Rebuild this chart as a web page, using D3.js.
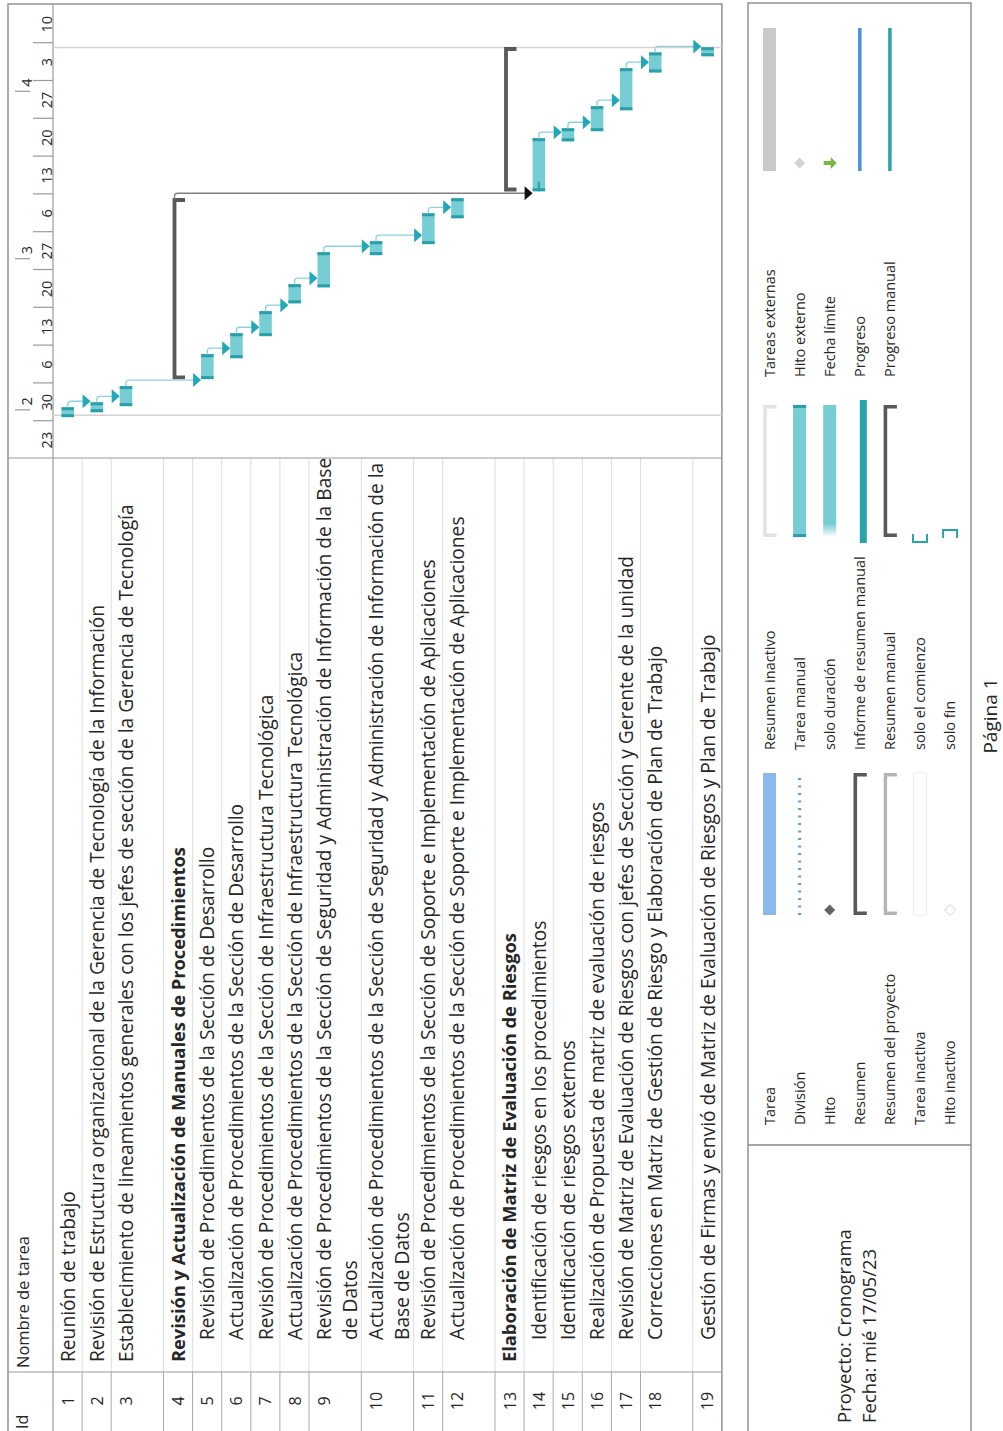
<!DOCTYPE html>
<html>
<head>
<meta charset="utf-8">
<script src="https://cdn.jsdelivr.net/npm/d3@7"></script>
<style>
  body { margin: 0; background: #fff; }
  svg { display: block; }
  text { font-family: 'Open Sans', sans-serif; fill: #262626; }
</style>
</head>
<body>
<svg id="page"></svg>
<script>
const taskIds = [1, 2, 3, 4, 5, 6, 7, 8, 9, 10, 11, 12, 13, 14, 15, 16, 17, 18, 19];
const taskNames = [
  ['Reunión de trabajo'],
  ['Revisión de Estructura organizacional de la Gerencia de Tecnología de la Información'],
  ['Establecimiento de lineamientos generales con los jefes de sección de la Gerencia de Tecnología'],
  ['Revisión y Actualización de Manuales de Procedimientos'],
  ['Revisión de Procedimientos de la Sección de Desarrollo'],
  ['Actualización de Procedimientos de la Sección de Desarrollo'],
  ['Revisión de Procedimientos de la Sección de Infraestructura Tecnológica'],
  ['Actualización de Procedimientos de la Sección de Infraestructura Tecnológica'],
  ['Revisión de Procedimientos de la Sección de Seguridad y Administración de Información de la Base', 'de Datos'],
  ['Actualización de Procedimientos de la Sección de Seguridad y Administración de Información de la', 'Base de Datos'],
  ['Revisión de Procedimientos de la Sección de Soporte e Implementación de Aplicaciones'],
  ['Actualización de Procedimientos de la Sección de Soporte e Implementación de Aplicaciones'],
  ['Elaboración de Matriz de Evaluación de Riesgos'],
  ['Identificación de riesgos en los procedimientos'],
  ['Identificación de riesgos externos'],
  ['Realización de Propuesta de matriz de evaluación de riesgos'],
  ['Revisión de Matriz de Evaluación de Riesgos con jefes de Sección y Gerente de la unidad'],
  ['Correcciones en Matriz de Gestión de Riesgo y Elaboración de Plan de Trabajo'],
  ['Gestión de Firmas y envió de Matriz de Evaluación de Riesgos y Plan de Trabajo']
];
const taskLevel = [0, 0, 0, 0, 1, 1, 1, 1, 1, 1, 1, 1, 0, 1, 1, 1, 1, 1, 1];
const rowSpan = [1, 1, 2, 1, 1, 1, 1, 1, 2, 2, 1, 2, 1, 1, 1, 1, 1, 2, 1];
// summary rows and the tasks they group
const summaries = {4: [5, 12], 13: [14, 19]};
const taskStart = [
  '2023-01-30 18:00', '2023-01-31 16:00', '2023-02-01 19:00', null,
  '2023-02-06 19:00', '2023-02-10 16:00', '2023-02-14 18:00', '2023-02-20 20:00',
  '2023-02-23 19:00', '2023-03-01 18:00', '2023-03-03 19:00', '2023-03-08 14:00', null,
  '2023-03-13 14:00', '2023-03-22 20:00', '2023-03-24 17:00', '2023-03-28 14:00',
  '2023-04-04 14:00', '2023-04-07 14:00'
];
const taskEnd = [
  '2023-02-01 14:00', '2023-02-02 12:00', '2023-02-05 12:00', null,
  '2023-02-11 10:00', '2023-02-15 07:00', '2023-02-19 09:00', '2023-02-24 09:00',
  '2023-03-02 07:00', '2023-03-04 08:00', '2023-03-09 12:00', '2023-03-12 07:00', null,
  '2023-03-23 10:00', '2023-03-25 06:00', '2023-03-29 08:00', '2023-04-05 09:00',
  '2023-04-08 07:00', '2023-04-09 06:00'
];
const taskProgress = {14: 0.18};
const links = [[1, 2], [2, 3], [3, 5], [5, 6], [6, 7], [7, 8], [8, 9], [9, 10], [10, 11], [11, 12],
  [14, 15], [15, 16], [16, 17], [17, 18], [18, 19]];
const summaryLinks = [[4, 14]];
const projectStart = '2023-01-31 03:00';
const projectFinish = '2023-04-09 05:00';
const timelineStart = '2023-01-23 00:00';
const timelineEnd = '2023-04-17 00:00';

const legendCol1 = ['Tarea', 'División', 'Hito', 'Resumen', 'Resumen del proyecto', 'Tarea inactiva', 'Hito inactivo'];
const legendCol2 = ['Resumen inactivo', 'Tarea manual', 'solo duración', 'Informe de resumen manual', 'Resumen manual', 'solo el comienzo', 'solo fin'];
const legendCol3 = ['Tareas externas', 'Hito externo', 'Fecha límite', 'Progreso', 'Progreso manual'];
const projectInfo = ['Proyecto: Cronograma', 'Fecha: mié 17/05/23'];
const pageLabel = 'Página 1';

// ---- page setup: the printout is landscape, turned a quarter to the left ----
const W = 1003, H = 1431;
const svg = d3.select('#page').attr('width', W).attr('height', H);
const g = svg.append('g').attr('transform', 'translate(0,' + H + ') rotate(-90)');

const teal = '#77cdd4', tealDark = '#2a9fa9', tealArrow = '#22a8b7', tealLink = '#8bd4da';
const frameColor = '#8a8a8a';
const taskFont = 19.2, boldFont = 18.3, idFont = 16;

const parse = d3.timeParse('%Y-%m-%d %H:%M');
const top0 = 53, single = 29.1, double = 52.3;
const rowTop = [];
let acc = top0;
rowSpan.forEach(s => { rowTop.push(acc); acc += s === 2 ? double : single; });
const tableBottom = acc;
const colId = 59, colGantt = 973, frameLeft = -5, frameRight = 1427;

const x = d3.scaleTime()
  .domain([parse(timelineStart), parse(timelineEnd)])
  .range([972, 1425.6]);

// task spans (summaries take the span of their children)
const spans = taskIds.map((id, i) => {
  if (summaries[id]) {
    const [a, b] = summaries[id];
    return [parse(taskStart[a - 1]), parse(taskEnd[b - 1])];
  }
  return [parse(taskStart[i]), parse(taskEnd[i])];
});

// ---- table grid ----
const grid = g.append('g');
rowTop.slice(1).forEach(t => {
  grid.append('line').attr('x1', frameLeft).attr('x2', colId).attr('y1', t).attr('y2', t)
    .attr('stroke', '#a9a9a9').attr('stroke-width', 1);
  grid.append('line').attr('x1', colId).attr('x2', colGantt).attr('y1', t).attr('y2', t)
    .attr('stroke', '#dedede').attr('stroke-width', 1);
});
grid.append('line').attr('x1', frameLeft).attr('x2', frameRight).attr('y1', top0).attr('y2', top0)
  .attr('stroke', '#9a9a9a').attr('stroke-width', 1.2);
[colId, colGantt].forEach(cx => {
  grid.append('line').attr('x1', cx).attr('x2', cx).attr('y1', 8).attr('y2', tableBottom)
    .attr('stroke', '#9a9a9a').attr('stroke-width', 1.2);
});
grid.append('rect').attr('x', frameLeft).attr('y', 8)
  .attr('width', frameRight - frameLeft).attr('height', tableBottom - 8)
  .attr('fill', 'none').attr('stroke', frameColor).attr('stroke-width', 1.4);

// headers
g.append('text').attr('x', 2).attr('y', 28).style('font-size', '16px').text('Id');
g.append('text').attr('x', 63).attr('y', 29).style('font-size', '16.5px').text('Nombre de tarea');

// ids and names
const rows = g.append('g').selectAll('g').data(taskIds).join('g');
rows.append('text')
  .attr('x', 30).attr('y', (d, i) => rowTop[i] + 15 + 0.35 * idFont)
  .attr('text-anchor', 'middle').style('font-size', idFont + 'px')
  .text(d => d);
rows.each(function (d, i) {
  const isSummary = !!summaries[d];
  const fs = isSummary ? boldFont : taskFont;
  taskNames[i].forEach((line, k) => {
    d3.select(this).append('text')
      .attr('x', k === 0 ? (taskLevel[i] ? 91 : 69) : 91)
      .attr('y', rowTop[i] + 15 + k * 26 + 0.35 * fs)
      .style('font-size', fs + 'px')
      .style('font-weight', isSummary ? 700 : 400)
      .text(line);
  });
});

// ---- timescale ----
const weeks = d3.timeMonday.range(x.domain()[0], x.domain()[1]);
const months = d3.timeMonth.range(x.domain()[0], x.domain()[1]);
const weekAxis = g.append('g').attr('transform', 'translate(0,' + top0 + ')')
  .call(d3.axisTop(x).tickValues(weeks.slice(1)).tickSize(20).tickFormat(''));
const monthAxis = g.append('g').attr('transform', 'translate(0,30)')
  .call(d3.axisTop(x).tickValues(months).tickSize(15).tickFormat(''));
[weekAxis, monthAxis].forEach(a => {
  a.select('.domain').remove();
  a.selectAll('.tick line').attr('stroke', '#9a9a9a').attr('stroke-width', 1.2);
});
g.append('g').selectAll('text').data(weeks).join('text')
  .attr('x', d => (x(d) + x(d3.timeDay.offset(d, 7))) / 2)
  .attr('y', 52).attr('text-anchor', 'middle').style('font-size', '14.5px')
  .text(d3.timeFormat('%-d'));
g.append('g').selectAll('text').data(months).join('text')
  .attr('x', d => x(d) + 5).attr('y', 32).style('font-size', '14.5px')
  .text(d3.timeFormat('%-m'));

// project start / finish lines
[projectStart, projectFinish].forEach(s => {
  g.append('line').attr('x1', x(parse(s))).attr('x2', x(parse(s)))
    .attr('y1', top0).attr('y2', tableBottom)
    .attr('stroke', '#d4d4d4').attr('stroke-width', 1.5);
});

// ---- bars ----
const barY = i => rowTop[i] + 8.5;
const barH = 12.5;
const bars = g.append('g');
taskIds.forEach((id, i) => {
  const [s, e] = spans[i];
  if (summaries[id]) {
    const x0 = x(s) + 1.75, x1 = x(e) - 1.75, y0 = rowTop[i] + 11;
    bars.append('path')
      .attr('d', 'M' + x0 + ',' + (y0 + 10.5) + 'V' + y0 + 'H' + x1 + 'V' + (y0 + 10.5))
      .attr('fill', 'none').attr('stroke', '#595959').attr('stroke-width', 3.8);
    return;
  }
  bars.append('rect').attr('x', x(s)).attr('y', barY(i))
    .attr('width', x(e) - x(s)).attr('height', barH).attr('fill', teal);
  [x(s), x(e) - 3].forEach(cx => {
    bars.append('rect').attr('x', cx).attr('y', barY(i)).attr('width', 3).attr('height', barH)
      .attr('fill', tealDark);
  });
  if (taskProgress[id]) {
    bars.append('line')
      .attr('x1', x(s)).attr('x2', x(s) + taskProgress[id] * (x(e) - x(s)))
      .attr('y1', barY(i) + barH / 2).attr('y2', barY(i) + barH / 2)
      .attr('stroke', tealDark).attr('stroke-width', 2);
  }
});

// ---- links ----
function linkPath(sx, sy, ty) {
  const vx = sx + 6;
  return 'M' + sx + ',' + sy + 'H' + (vx - 3) + 'Q' + vx + ',' + sy + ' ' + vx + ',' + (sy + 3) + 'V' + (ty - 7);
}
function arrowPath(sx, ty) {
  const vx = sx + 6;
  return 'M' + (vx - 7) + ',' + (ty - 8) + 'L' + (vx + 7) + ',' + (ty - 8) + 'L' + vx + ',' + ty + 'Z';
}
const linkG = g.append('g');
links.forEach(([a, b]) => {
  const sx = x(spans[a - 1][1]), sy = barY(a - 1) + barH / 2, ty = barY(b - 1);
  linkG.append('path').attr('d', linkPath(sx, sy, ty))
    .attr('fill', 'none').attr('stroke', tealLink).attr('stroke-width', 1.3);
  linkG.append('path').attr('d', arrowPath(sx, ty)).attr('fill', tealArrow);
});
summaryLinks.forEach(([a, b]) => {
  const sx = x(spans[a - 1][1]) - 1, sy = rowTop[a - 1] + 11, ty = barY(b - 1);
  linkG.append('path').attr('d', linkPath(sx, sy, ty))
    .attr('fill', 'none').attr('stroke', '#808080').attr('stroke-width', 1.3);
  linkG.append('path').attr('d', arrowPath(sx, ty)).attr('fill', '#111');
});

// ---- legend box ----
const legTop = 748, legBottom = 971, infoRight = 286;
const leg = g.append('g');
leg.append('rect').attr('x', frameLeft).attr('y', legTop)
  .attr('width', 1428 - frameLeft).attr('height', legBottom - legTop)
  .attr('fill', 'none').attr('stroke', frameColor).attr('stroke-width', 1.4);
leg.append('line').attr('x1', infoRight).attr('x2', infoRight).attr('y1', legTop).attr('y2', legBottom)
  .attr('stroke', frameColor).attr('stroke-width', 1.4);
projectInfo.forEach((t, k) => {
  leg.append('text').attr('x', 8).attr('y', 851 + k * 25).style('font-size', '18.5px').text(t);
});

const legY = i => 769.5 + i * 30.1;
const defs = svg.append('defs');
const grad = defs.append('linearGradient').attr('id', 'fade');
grad.append('stop').attr('offset', '0').attr('stop-color', '#fff');
grad.append('stop').attr('offset', '0.1').attr('stop-color', teal);
grad.append('stop').attr('offset', '1').attr('stop-color', teal);

function bracket(sel, x0, x1, yc, color, width) {
  sel.append('path')
    .attr('d', 'M' + (x0 + 1.7) + ',' + (yc + 7) + 'V' + (yc - 4.5) + 'H' + (x1 - 1.7) + 'V' + (yc + 7))
    .attr('fill', 'none').attr('stroke', color).attr('stroke-width', width);
}
function diamond(sel, cx, cy, r, fill, stroke) {
  sel.append('path')
    .attr('d', 'M' + cx + ',' + (cy - r) + 'L' + (cx + r) + ',' + cy + 'L' + cx + ',' + (cy + r) + 'L' + (cx - r) + ',' + cy + 'Z')
    .attr('fill', fill).attr('stroke', stroke || 'none');
}
const symbols = [
  // column 1
  (s, y) => s.append('rect').attr('x', 516).attr('y', y - 6.5).attr('width', 142).attr('height', 13).attr('fill', '#8bb9eb'),
  (s, y) => s.append('line').attr('x1', 516).attr('x2', 658).attr('y1', y).attr('y2', y)
    .attr('stroke', '#5d9de4').attr('stroke-width', 3).attr('stroke-dasharray', '2 5.5'),
  (s, y) => diamond(s, 521, y, 5.5, '#646464'),
  (s, y) => bracket(s, 516, 658, y, '#595959', 3.6),
  (s, y) => bracket(s, 516, 658, y, '#b5b5b5', 3.4),
  (s, y) => s.append('rect').attr('x', 516).attr('y', y - 6.5).attr('width', 142).attr('height', 13)
    .attr('fill', '#fff').attr('stroke', '#ececec'),
  (s, y) => diamond(s, 521, y, 5.5, '#fff', '#d2d2d2'),
  // column 2
  (s, y) => bracket(s, 894, 1026, y, '#e2e2e2', 3.4),
  (s, y) => {
    s.append('rect').attr('x', 894).attr('y', y - 6.5).attr('width', 132).attr('height', 13).attr('fill', teal);
    [894, 1023].forEach(cx => s.append('rect').attr('x', cx).attr('y', y - 6.5).attr('width', 3).attr('height', 13).attr('fill', tealDark));
  },
  (s, y) => s.append('rect').attr('x', 894).attr('y', y - 6.5).attr('width', 132).attr('height', 13).attr('fill', 'url(#fade)'),
  (s, y) => s.append('rect').attr('x', 888).attr('y', y).attr('width', 143).attr('height', 7).attr('fill', '#2aa3ad'),
  (s, y) => bracket(s, 894, 1026, y, '#595959', 3.6),
  (s, y) => s.append('path').attr('d', 'M897,' + (y - 7) + 'H889V' + (y + 7) + 'H897')
    .attr('fill', 'none').attr('stroke', '#2aa3ad').attr('stroke-width', 2),
  (s, y) => s.append('path').attr('d', 'M893,' + (y - 7) + 'H901V' + (y + 7) + 'H893')
    .attr('fill', 'none').attr('stroke', '#2aa3ad').attr('stroke-width', 2),
  // column 3
  (s, y) => s.append('rect').attr('x', 1260).attr('y', y - 6.5).attr('width', 143).attr('height', 13).attr('fill', '#c9c9c9'),
  (s, y) => diamond(s, 1268, y, 5.5, '#d3d3d3'),
  (s, y) => s.append('path')
    .attr('d', 'M1266,' + (y - 6) + 'H1270V' + (y + 1) + 'H1274L1268,' + (y + 7) + 'L1262,' + (y + 1) + 'H1266Z')
    .attr('fill', '#78b843'),
  (s, y) => s.append('line').attr('x1', 1260).attr('x2', 1403).attr('y1', y).attr('y2', y)
    .attr('stroke', '#4a8fe0').attr('stroke-width', 3.5),
  (s, y) => s.append('line').attr('x1', 1260).attr('x2', 1403).attr('y1', y).attr('y2', y)
    .attr('stroke', '#2aa3ad').attr('stroke-width', 3.5)
];
const legendItems = [];
legendCol1.forEach((t, i) => legendItems.push({t, i, lx: 306}));
legendCol2.forEach((t, i) => legendItems.push({t, i, lx: 681}));
legendCol3.forEach((t, i) => legendItems.push({t, i, lx: 1054}));
legendItems.forEach((d, k) => {
  leg.append('text').attr('x', d.lx).attr('y', legY(d.i) + 5.2).style('font-size', '14.5px').text(d.t);
  symbols[k](leg, legY(d.i));
});

g.append('text').attr('x', 715).attr('y', 997).attr('text-anchor', 'middle')
  .style('font-size', '19px').text(pageLabel);
</script>
</body>
</html>
